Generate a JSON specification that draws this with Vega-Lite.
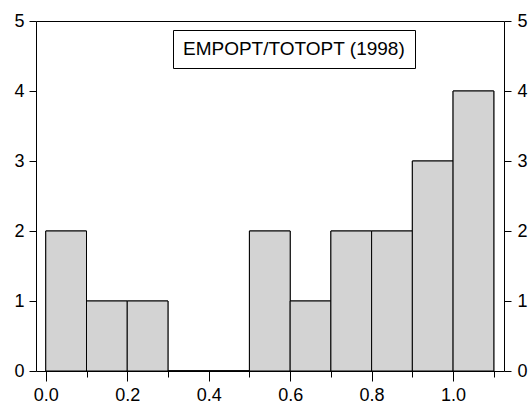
{
  "$schema": "https://vega.github.io/schema/vega-lite/v6.json",
  "width": 468,
  "height": 350,
  "autosize": {"type": "none"},
  "padding": {"left": 36, "top": 21, "right": 28, "bottom": 41},
  "background": "white",
  "config": {
    "font": "Liberation Sans",
    "view": {"stroke": "black", "strokeWidth": 1},
    "axis": {
      "domain": false,
      "grid": false,
      "tickColor": "black",
      "labelColor": "black",
      "labelFont": "Liberation Sans",
      "labelFontSize": 18,
      "title": null
    }
  },
  "data": {
    "values": [
      {"start": 0.0, "end": 0.1, "count": 2},
      {"start": 0.1, "end": 0.2, "count": 1},
      {"start": 0.2, "end": 0.3, "count": 1},
      {"start": 0.3, "end": 0.4, "count": 0},
      {"start": 0.4, "end": 0.5, "count": 0},
      {"start": 0.5, "end": 0.6, "count": 2},
      {"start": 0.6, "end": 0.7, "count": 1},
      {"start": 0.7, "end": 0.8, "count": 2},
      {"start": 0.8, "end": 0.9, "count": 2},
      {"start": 0.9, "end": 1.0, "count": 3},
      {"start": 1.0, "end": 1.1, "count": 4}
    ]
  },
  "layer": [
    {
      "mark": {"type": "bar", "stroke": "black", "strokeWidth": 1, "fillOpacity": 1},
      "encoding": {
        "x": {
          "field": "start",
          "type": "quantitative",
          "scale": {"domain": [-0.024, 1.125], "nice": false, "zero": false},
          "axis": {
            "orient": "bottom",
            "values": [0, 0.2, 0.4, 0.6, 0.8, 1.0],
            "format": ".1f",
            "tickSize": 10,
            "labelPadding": 5
          }
        },
        "x2": {"field": "end"},
        "y": {
          "field": "count",
          "type": "quantitative",
          "scale": {"domain": [0, 5], "nice": false},
          "axis": {
            "orient": "left",
            "values": [0, 1, 2, 3, 4, 5],
            "tickSize": 7,
            "labelPadding": 5
          }
        },
        "y2": {"datum": 0},
        "color": {
          "datum": "EMPOPT/TOTOPT (1998)",
          "scale": {"range": ["#d3d3d3"]},
          "legend": {
            "title": null,
            "orient": "none",
            "legendX": 137,
            "legendY": 9,
            "strokeColor": "black",
            "fillColor": "white",
            "padding": 9,
            "symbolSize": 0,
            "symbolOpacity": 0,
            "symbolStrokeWidth": 0,
            "labelOffset": -18,
            "labelFontSize": 19,
            "labelColor": "black",
            "labelLimit": 400
          }
        }
      }
    },
    {
      "mark": {"type": "bar", "fill": "#d3d3d3", "stroke": "black", "strokeWidth": 1},
      "encoding": {
        "x": {
          "field": "start",
          "type": "quantitative",
          "axis": {
            "orient": "bottom",
            "values": [0.1, 0.3, 0.5, 0.7, 0.9, 1.1],
            "labels": false,
            "tickSize": 6
          }
        },
        "x2": {"field": "end"},
        "y": {
          "field": "count",
          "type": "quantitative",
          "axis": {
            "orient": "right",
            "values": [0, 1, 2, 3, 4, 5],
            "tickSize": 7,
            "labelPadding": 6
          }
        },
        "y2": {"datum": 0}
      }
    }
  ],
  "resolve": {"axis": {"x": "independent", "y": "independent"}}
}
